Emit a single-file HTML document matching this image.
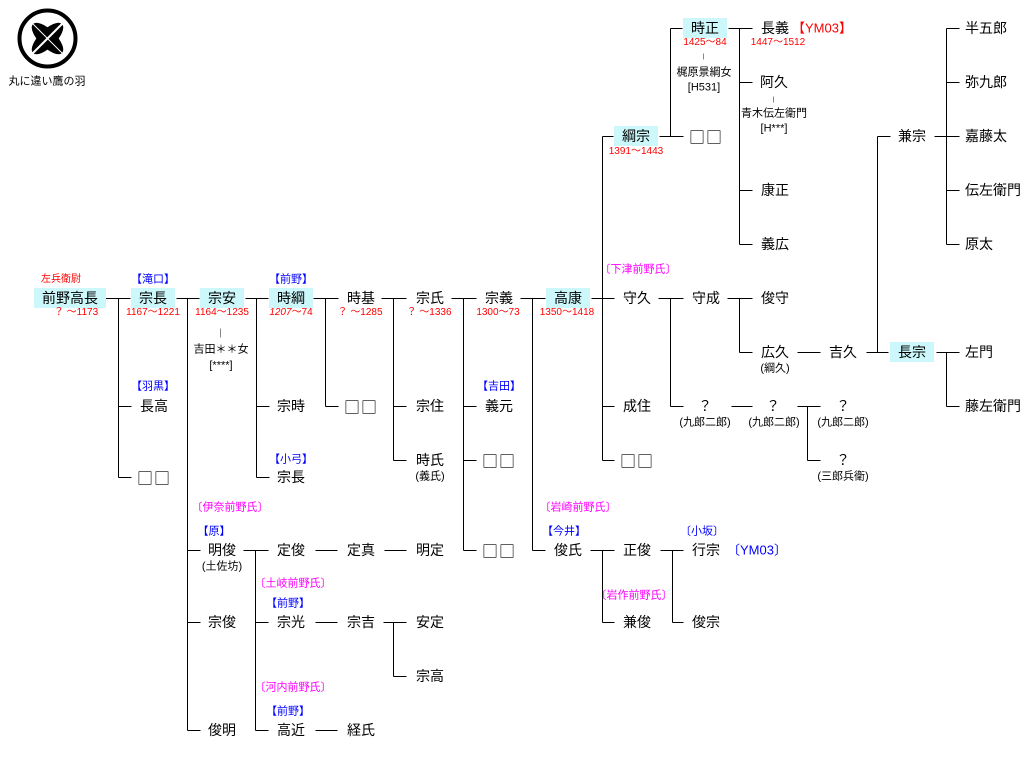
<!DOCTYPE html>
<html><head><meta charset="utf-8">
<style>
body{margin:0;width:1031px;height:776px;background:#fff;position:relative;overflow:hidden;font-family:"Liberation Sans","Noto Sans CJK JP",sans-serif;color:#000}
.n,.s,.b,.m,.y,.p,.l{position:absolute;white-space:nowrap;transform:translate(-50%,-50%);line-height:1}
.n{font-size:14px}
.q{font-family:"Noto Sans CJK JP",sans-serif;font-size:16px;letter-spacing:1px}
.h{background:#ccf8fb;padding:3px 8px}
.y{font-size:10px;color:#f00}
.b{font-size:11px;color:#00f}
.m{font-size:11px;color:#f0f}
.s{font-size:11px}
.p{font-size:11px}
.l{transform:translate(0,-50%);font-size:14px}
svg{position:absolute;left:0;top:0}
</style></head><body>
<svg width="1031" height="776" stroke="#000" stroke-width="1" fill="none">
<g transform="translate(0.5,0.5)">
<circle cx="47" cy="38" r="28" stroke-width="4"/>
<g transform="rotate(-45 47 38)"><ellipse cx="47" cy="38" rx="20" ry="8" fill="#000"/></g>
<g transform="rotate(45 47 38)"><ellipse cx="47" cy="38" rx="20" ry="8" fill="#000"/></g>
<line x1="32" y1="53" x2="62" y2="23" stroke="#fff" stroke-width="2"/>
<line x1="32" y1="23" x2="62" y2="53" stroke="#fff" stroke-width="1"/>
<line x1="104" y1="298" x2="130" y2="298"/>
<line x1="118" y1="298" x2="118" y2="477"/>
<line x1="118" y1="406" x2="131" y2="406"/><line x1="118" y1="477" x2="131" y2="477"/>
<line x1="176" y1="298" x2="199" y2="298"/>
<line x1="187" y1="298" x2="187" y2="730"/>
<line x1="187" y1="550" x2="200" y2="550"/><line x1="187" y1="622" x2="200" y2="622"/><line x1="187" y1="730" x2="200" y2="730"/>
<line x1="245" y1="298" x2="268" y2="298"/>
<line x1="256" y1="298" x2="256" y2="477"/>
<line x1="256" y1="406" x2="269" y2="406"/><line x1="256" y1="477" x2="269" y2="477"/>
<line x1="313" y1="298" x2="338" y2="298"/>
<line x1="325" y1="298" x2="325" y2="406"/><line x1="325" y1="406" x2="338" y2="406"/>
<line x1="381" y1="298" x2="406" y2="298"/>
<line x1="393" y1="298" x2="393" y2="460"/>
<line x1="393" y1="406" x2="406" y2="406"/><line x1="393" y1="460" x2="406" y2="460"/>
<line x1="451" y1="298" x2="476" y2="298"/>
<line x1="463" y1="298" x2="463" y2="550"/>
<line x1="463" y1="406" x2="476" y2="406"/><line x1="463" y1="460" x2="476" y2="460"/><line x1="463" y1="550" x2="476" y2="550"/>
<line x1="520" y1="298" x2="545" y2="298"/>
<line x1="532" y1="298" x2="532" y2="550"/><line x1="532" y1="550" x2="545" y2="550"/>
<line x1="591" y1="298" x2="614" y2="298"/>
<line x1="602" y1="136" x2="602" y2="460"/>
<line x1="602" y1="136" x2="613" y2="136"/><line x1="602" y1="406" x2="614" y2="406"/><line x1="602" y1="460" x2="614" y2="460"/>
<line x1="659" y1="136" x2="683" y2="136"/>
<line x1="670" y1="28" x2="670" y2="136"/><line x1="670" y1="28" x2="682" y2="28"/>
<line x1="728" y1="28" x2="752" y2="28"/>
<line x1="739" y1="28" x2="739" y2="244"/>
<line x1="739" y1="82" x2="752" y2="82"/><line x1="739" y1="190" x2="752" y2="190"/><line x1="739" y1="244" x2="752" y2="244"/>
<line x1="658" y1="298" x2="683" y2="298"/>
<line x1="670" y1="298" x2="670" y2="406"/><line x1="670" y1="406" x2="683" y2="406"/>
<line x1="727" y1="298" x2="752" y2="298"/>
<line x1="739" y1="298" x2="739" y2="352"/><line x1="739" y1="352" x2="752" y2="352"/>
<line x1="797" y1="352" x2="820" y2="352"/>
<line x1="866" y1="352" x2="888" y2="352"/>
<line x1="877" y1="136" x2="877" y2="352"/><line x1="877" y1="136" x2="890" y2="136"/>
<line x1="934" y1="136" x2="959" y2="136"/>
<line x1="946" y1="28" x2="946" y2="244"/>
<line x1="946" y1="28" x2="959" y2="28"/><line x1="946" y1="82" x2="959" y2="82"/><line x1="946" y1="190" x2="959" y2="190"/><line x1="946" y1="244" x2="959" y2="244"/>
<line x1="936" y1="352" x2="959" y2="352"/>
<line x1="946" y1="352" x2="946" y2="406"/><line x1="946" y1="406" x2="959" y2="406"/>
<line x1="731" y1="406" x2="752" y2="406"/>
<line x1="797" y1="406" x2="820" y2="406"/>
<line x1="807" y1="406" x2="807" y2="460"/><line x1="807" y1="460" x2="820" y2="460"/>
<line x1="590" y1="550" x2="614" y2="550"/>
<line x1="602" y1="550" x2="602" y2="622"/><line x1="602" y1="622" x2="614" y2="622"/>
<line x1="660" y1="550" x2="683" y2="550"/>
<line x1="672" y1="550" x2="672" y2="622"/><line x1="672" y1="622" x2="683" y2="622"/>
<line x1="243" y1="550" x2="268" y2="550"/>
<line x1="255" y1="550" x2="255" y2="730"/>
<line x1="255" y1="622" x2="268" y2="622"/><line x1="255" y1="730" x2="268" y2="730"/>
<line x1="315" y1="550" x2="337" y2="550"/><line x1="384" y1="550" x2="406" y2="550"/>
<line x1="315" y1="622" x2="337" y2="622"/>
<line x1="383" y1="622" x2="406" y2="622"/>
<line x1="393" y1="622" x2="393" y2="676"/><line x1="393" y1="676" x2="406" y2="676"/>
<line x1="315" y1="730" x2="337" y2="730"/>
<line x1="220" y1="328" x2="220" y2="337" stroke="#888"/>
<line x1="703" y1="53" x2="703" y2="59" stroke="#888"/>
<line x1="773" y1="96" x2="773" y2="102" stroke="#888"/>
</g></svg>

<div class="s" style="left:47px;top:82px">丸に違い鷹の羽</div>

<div class="y" style="left:61px;top:280px">左兵衛尉</div>
<div class="n h" style="left:70px;top:298px">前野高長</div>
<div class="y" style="left:76px;top:313px">？ ～1173</div>
<div class="b" style="left:153px;top:280px">【滝口】</div>
<div class="n h" style="left:153px;top:298px">宗長</div>
<div class="y" style="left:153px;top:313px">1167～1221</div>
<div class="n h" style="left:222px;top:298px">宗安</div>
<div class="y" style="left:222px;top:313px">1164～1235</div>
<div class="s" style="left:221px;top:350px">吉田＊＊女</div>
<div class="s" style="left:221px;top:366px">[****]</div>
<div class="b" style="left:291px;top:280px">【前野】</div>
<div class="n h" style="left:291px;top:298px">時綱</div>
<div class="y" style="left:291px;top:313px"><i>1207</i>～74</div>
<div class="n" style="left:361px;top:298px">時基</div>
<div class="y" style="left:360px;top:313px">？ ～1285</div>
<div class="n" style="left:430px;top:298px">宗氏</div>
<div class="y" style="left:429px;top:313px">？ ～1336</div>
<div class="n" style="left:499px;top:298px">宗義</div>
<div class="y" style="left:498px;top:313px">1300～73</div>
<div class="n h" style="left:568px;top:298px">高康</div>
<div class="y" style="left:567px;top:313px">1350～1418</div>
<div class="m" style="left:638px;top:270px">〔下津前野氏〕</div>
<div class="n" style="left:637px;top:298px">守久</div>
<div class="n" style="left:706px;top:298px">守成</div>
<div class="n" style="left:775px;top:298px">俊守</div>
<div class="n" style="left:775px;top:352px">広久</div>
<div class="p" style="left:775px;top:369px">(綱久)</div>
<div class="n" style="left:843px;top:352px">吉久</div>
<div class="n h" style="left:912px;top:352px">長宗</div>
<div class="l" style="left:965px;top:352px">左門</div>
<div class="l" style="left:965px;top:406px">藤左衛門</div>
<div class="n" style="left:912px;top:136px">兼宗</div>
<div class="l" style="left:965px;top:28px">半五郎</div>
<div class="l" style="left:965px;top:82px">弥九郎</div>
<div class="l" style="left:965px;top:136px">嘉藤太</div>
<div class="l" style="left:965px;top:190px">伝左衛門</div>
<div class="l" style="left:965px;top:244px">原太</div>

<div class="n h" style="left:636px;top:136px">綱宗</div>
<div class="y" style="left:636px;top:152px">1391～1443</div>
<div class="n q" style="left:706px;top:136px">□□</div>
<div class="n h" style="left:705px;top:28px">時正</div>
<div class="y" style="left:705px;top:43px">1425～84</div>
<div class="s" style="left:704px;top:73px">梶原景綱女</div>
<div class="s" style="left:704px;top:88px">[H531]</div>
<div class="n" style="left:775px;top:28px">長義</div>
<div class="y" style="left:778px;top:43px">1447～1512</div>
<div class="n" style="left:822px;top:28px;color:#f00;font-size:13px">【YM03】</div>
<div class="n" style="left:774px;top:82px">阿久</div>
<div class="s" style="left:774px;top:114px">青木伝左衛門</div>
<div class="s" style="left:774px;top:129px">[H***]</div>
<div class="n" style="left:775px;top:190px">康正</div>
<div class="n" style="left:775px;top:244px">義広</div>

<div class="b" style="left:153px;top:387px">【羽黒】</div>
<div class="n" style="left:154px;top:406px">長高</div>
<div class="n q" style="left:154px;top:477px">□□</div>
<div class="n" style="left:291px;top:406px">宗時</div>
<div class="b" style="left:291px;top:460px">【小弓】</div>
<div class="n" style="left:291px;top:477px">宗長</div>
<div class="n q" style="left:361px;top:406px">□□</div>
<div class="n" style="left:430px;top:406px">宗住</div>
<div class="n" style="left:430px;top:460px">時氏</div>
<div class="p" style="left:430px;top:477px">(義氏)</div>
<div class="b" style="left:499px;top:387px">【吉田】</div>
<div class="n" style="left:499px;top:406px">義元</div>
<div class="n q" style="left:499px;top:460px">□□</div>
<div class="n q" style="left:499px;top:550px">□□</div>
<div class="n" style="left:637px;top:406px">成住</div>
<div class="n q" style="left:637px;top:460px">□□</div>
<div class="n" style="left:705px;top:406px">？</div>
<div class="p" style="left:705px;top:423px">(九郎二郎)</div>
<div class="n" style="left:773px;top:406px">？</div>
<div class="p" style="left:774px;top:423px">(九郎二郎)</div>
<div class="n" style="left:843px;top:406px">？</div>
<div class="p" style="left:843px;top:423px">(九郎二郎)</div>
<div class="n" style="left:843px;top:460px">？</div>
<div class="p" style="left:843px;top:477px">(三郎兵衛)</div>

<div class="m" style="left:230px;top:508px">〔伊奈前野氏〕</div>
<div class="b" style="left:214px;top:532px">【原】</div>
<div class="n" style="left:222px;top:550px">明俊</div>
<div class="p" style="left:222px;top:567px">(土佐坊)</div>
<div class="n" style="left:222px;top:622px">宗俊</div>
<div class="n" style="left:222px;top:730px">俊明</div>
<div class="n" style="left:291px;top:550px">定俊</div>
<div class="n" style="left:361px;top:550px">定真</div>
<div class="n" style="left:430px;top:550px">明定</div>
<div class="m" style="left:293px;top:584px">〔土岐前野氏〕</div>
<div class="b" style="left:288px;top:604px">【前野】</div>
<div class="n" style="left:291px;top:622px">宗光</div>
<div class="n" style="left:361px;top:622px">宗吉</div>
<div class="n" style="left:430px;top:622px">安定</div>
<div class="n" style="left:430px;top:676px">宗高</div>
<div class="m" style="left:293px;top:688px">〔河内前野氏〕</div>
<div class="b" style="left:288px;top:712px">【前野】</div>
<div class="n" style="left:291px;top:730px">高近</div>
<div class="n" style="left:361px;top:730px">経氏</div>

<div class="m" style="left:578px;top:508px">〔岩崎前野氏〕</div>
<div class="b" style="left:564px;top:532px">【今井】</div>
<div class="n" style="left:568px;top:550px">俊氏</div>
<div class="n" style="left:637px;top:550px">正俊</div>
<div class="m" style="left:634px;top:596px">〔岩作前野氏〕</div>
<div class="n" style="left:637px;top:622px">兼俊</div>
<div class="b" style="left:702px;top:532px">〔小坂〕</div>
<div class="n" style="left:706px;top:550px">行宗</div>
<div class="n" style="left:757px;top:550px;color:#00f;font-size:13px">〔YM03〕</div>
<div class="n" style="left:706px;top:622px">俊宗</div>
</body></html>
